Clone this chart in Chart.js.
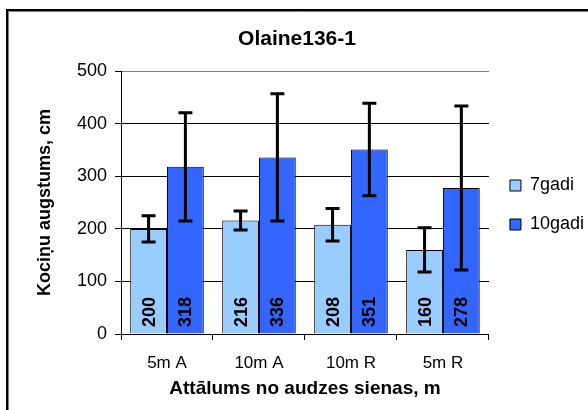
<!DOCTYPE html>
<html>
<head>
<meta charset="utf-8">
<script src="https://cdn.jsdelivr.net/npm/chart.js@4"></script>
<style>
  body { margin: 0; background: #fff; }
</style>
</head>
<body>
<canvas id="myChart" width="588" height="410"></canvas>
<script>
var ctx = document.getElementById('myChart').getContext('2d');

// dati
var kategorijas = ['5m A', '10m A', '10m R', '5m R'];
var gadi7 = [200, 216, 208, 160];
var gadi10 = [318, 336, 351, 278];
var kluda7 = [25, 18, 31, 42];
var kluda10 = [103, 121, 88, 156];
var yTicks = [0, 100, 200, 300, 400, 500];

var fonts = "'Liberation Sans', Arial, sans-serif";
var errors = [kluda7, kluda10];

// ramis ap visu attelu
var ramis = {
  id: 'ramis',
  afterDraw: function (chart) {
    var c = chart.ctx;
    c.save();
    c.strokeStyle = '#808080';
    c.lineWidth = 1;
    c.beginPath();
    c.moveTo(8.5, 410); c.lineTo(8.5, 11.5); c.lineTo(588, 11.5);
    c.stroke();
    c.strokeStyle = '#000';
    c.lineWidth = 2;
    c.beginPath();
    c.moveTo(7, 410); c.lineTo(7, 10); c.lineTo(588, 10);
    c.stroke();
    c.restore();
  }
};

// kludu joslas un vertibas stabinos
var joslas = {
  id: 'joslas',
  afterDatasetsDraw: function (chart) {
    var c = chart.ctx;
    var y = chart.scales.y;
    c.save();
    chart.data.datasets.forEach(function (ds, di) {
      var meta = chart.getDatasetMeta(di);
      meta.data.forEach(function (bar, i) {
        var v = ds.data[i];
        var e = errors[di][i];
        var top = y.getPixelForValue(v + e);
        var bot = y.getPixelForValue(v - e);
        c.strokeStyle = '#000';
        c.lineWidth = 3;
        c.beginPath();
        c.moveTo(bar.x, top); c.lineTo(bar.x, bot);
        c.moveTo(bar.x - 7, top); c.lineTo(bar.x + 7, top);
        c.moveTo(bar.x - 7, bot); c.lineTo(bar.x + 7, bot);
        c.stroke();
        // vertiba
        c.save();
        c.translate(bar.x, y.getPixelForValue(0) - 7);
        c.rotate(-Math.PI / 2);
        c.fillStyle = '#000';
        c.font = 'bold 18px ' + fonts;
        c.textAlign = 'left';
        c.textBaseline = 'middle';
        c.fillText(String(v), 0, 1);
        c.restore();
      });
    });
    c.restore();
  }
};

var config = {
  type: 'bar',
  data: {
    labels: kategorijas,
    datasets: [
      {
        label: '7gadi',
        data: gadi7,
        backgroundColor: '#99CCFF',
        borderColor: '#000',
        borderWidth: 1,
        categoryPercentage: 0.8,
        barPercentage: 1.0
      },
      {
        label: '10gadi',
        data: gadi10,
        backgroundColor: '#3366FF',
        borderColor: '#000',
        borderWidth: 1,
        categoryPercentage: 0.8,
        barPercentage: 1.0
      }
    ]
  },
  options: {
    responsive: false,
    animation: false,
    layout: { padding: { left: 0, top: 0, bottom: 0, right: -6 } },
    plugins: {
      title: {
        display: true,
        text: 'Olaine136-1',
        color: '#000',
        font: { family: fonts, size: 21, weight: 'bold' },
        padding: { top: 27, bottom: 19 }
      },
      legend: {
        position: 'right',
        labels: {
          color: '#000',
          font: { family: fonts, size: 18 },
          boxWidth: 11,
          boxHeight: 11,
          padding: 21
        }
      },
      tooltip: { enabled: false }
    },
    scales: {
      x: {
        afterFit: function (s) { s.height = 76; },
        grid: {
          offset: true,
          drawOnChartArea: true,
          color: function (c) { return c.index === kategorijas.length ? '#808080' : 'rgba(0,0,0,0)'; },
          tickColor: '#000',
          tickLength: 6
        },
        border: { color: '#000', width: 1 },
        ticks: {
          color: '#000',
          font: { family: fonts, size: 17 },
          padding: 13
        },
        title: {
          display: true,
          text: 'Attālums no audzes sienas, m',
          color: '#000',
          font: { family: fonts, size: 19, weight: 'bold' },
          padding: { top: 0, bottom: 10 }
        }
      },
      y: {
        min: 0,
        max: 500,
        afterFit: function (s) { s.width = 121; },
        afterBuildTicks: function (s) { s.ticks = yTicks.map(function (v) { return { value: v }; }); },
        grid: {
          color: function (c) { return c.tick && c.tick.value === 500 ? '#808080' : '#000'; },
          tickColor: '#000',
          tickLength: 6
        },
        border: { color: '#000', width: 1 },
        ticks: {
          color: '#000',
          font: { family: fonts, size: 18 },
          padding: 8
        },
        title: {
          display: true,
          text: 'Kociņu augstums, cm',
          color: '#000',
          font: { family: fonts, size: 18, weight: 'bold' },
          padding: { top: 34, bottom: 0 }
        }
      }
    }
  },
  plugins: [joslas, ramis]
};

var chart = new Chart(ctx, config);
</script>
</body>
</html>
